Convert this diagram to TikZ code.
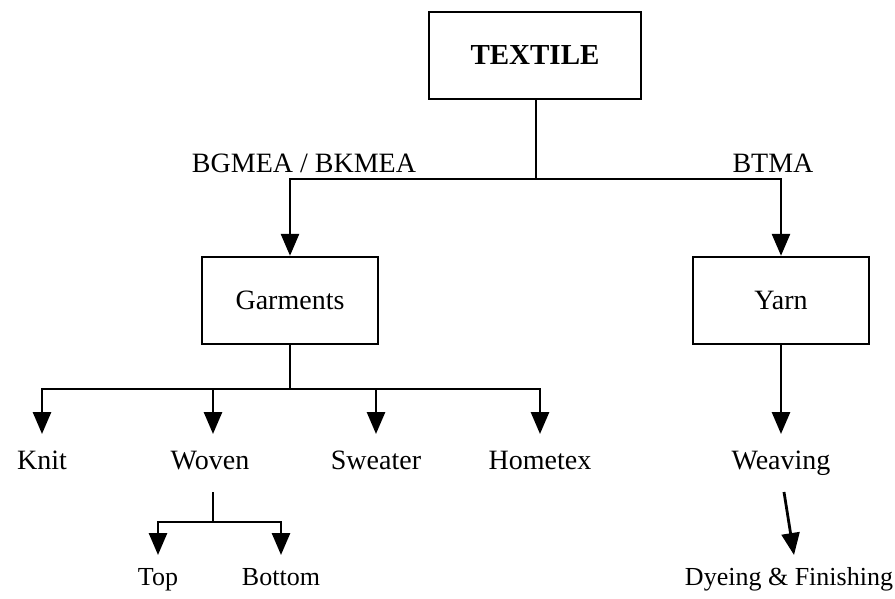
\documentclass[tikz,border=0pt]{standalone}
\usepackage{fontspec}
\setmainfont{Liberation Serif}
\usetikzlibrary{arrows.meta}

\begin{document}
\begin{tikzpicture}[x=1pt, y=-1pt,
    box/.style={draw, line width=2.4pt, rectangle, minimum width=176pt, minimum height=87pt, font=\fontsize{28}{32}\selectfont},
    label/.style={inner sep=0pt, outer sep=17pt, text height=18pt, text depth=6pt, font=\fontsize{28}{32}\selectfont},
    leaf/.style={inner sep=0pt, outer sep=13pt, text height=17pt, text depth=5pt, font=\fontsize{26}{30}\selectfont},
    tag/.style={inner sep=0pt, font=\fontsize{28}{32}\selectfont},
    line/.style={line width=2.8pt},
    >={Triangle[width=18pt, length=22pt]}]
    \useasboundingbox (0,0) rectangle (895,598);

    % Cajas
    \node[box, minimum width=212pt, font=\fontsize{29}{33}\selectfont\bfseries] (textile) at (535,55.5) {TEXTILE};
    \node[box] (garments) at (290,300.5) {Garments};
    \node[box] (yarn) at (781,300.5) {Yarn};

    % Asociaciones
    \node[tag] (bgmea) at (304,163) {BGMEA / BKMEA};
    \node[tag] (btma) at (773,163) {BTMA};

    % Productos
    \node[label] (knit) at (42,463) {Knit};
    \node[label] (woven) at (210,463) {Woven};
    \node[label] (sweater) at (376,463) {Sweater};
    \node[label] (hometex) at (540,463) {Hometex};
    \node[label] (weaving) at (781,463) {Weaving};
    \node[leaf] (top) at (158,579) {Top};
    \node[leaf] (bottom) at (281,579) {Bottom};
    \node[leaf] (dyeing) at (789,579) {Dyeing \& Finishing};

    % Puntos de bifurcacion
    \coordinate (split1) at (536,179);
    \coordinate (split2) at (290,389);
    \coordinate (split3) at (213,522);

    % Conexiones
    \draw[line] (textile.south -| split1) -- (split1);
    \draw[line, ->] (split1) -| (garments.north);
    \draw[line, ->] (split1) -| (yarn.north);

    \draw[line] (garments) -- (split2);
    \draw[line, ->] (split2) -| (knit.north);
    \draw[line, ->] (split2) -| (woven.north -| split3);
    \draw[line, ->] (split2) -| (sweater.north);
    \draw[line, ->] (split2) -| (hometex.north);

    \draw[line] (woven.south -| split3) -- (split3);
    \draw[line, ->] (split3) -| (top.north);
    \draw[line, ->] (split3) -| (bottom.north);

    \draw[line, ->] (yarn) -- (weaving);
    \draw[line, ->] ([xshift=3pt]weaving.south) -- ([xshift=5pt]dyeing.north);
\end{tikzpicture}
\end{document}
